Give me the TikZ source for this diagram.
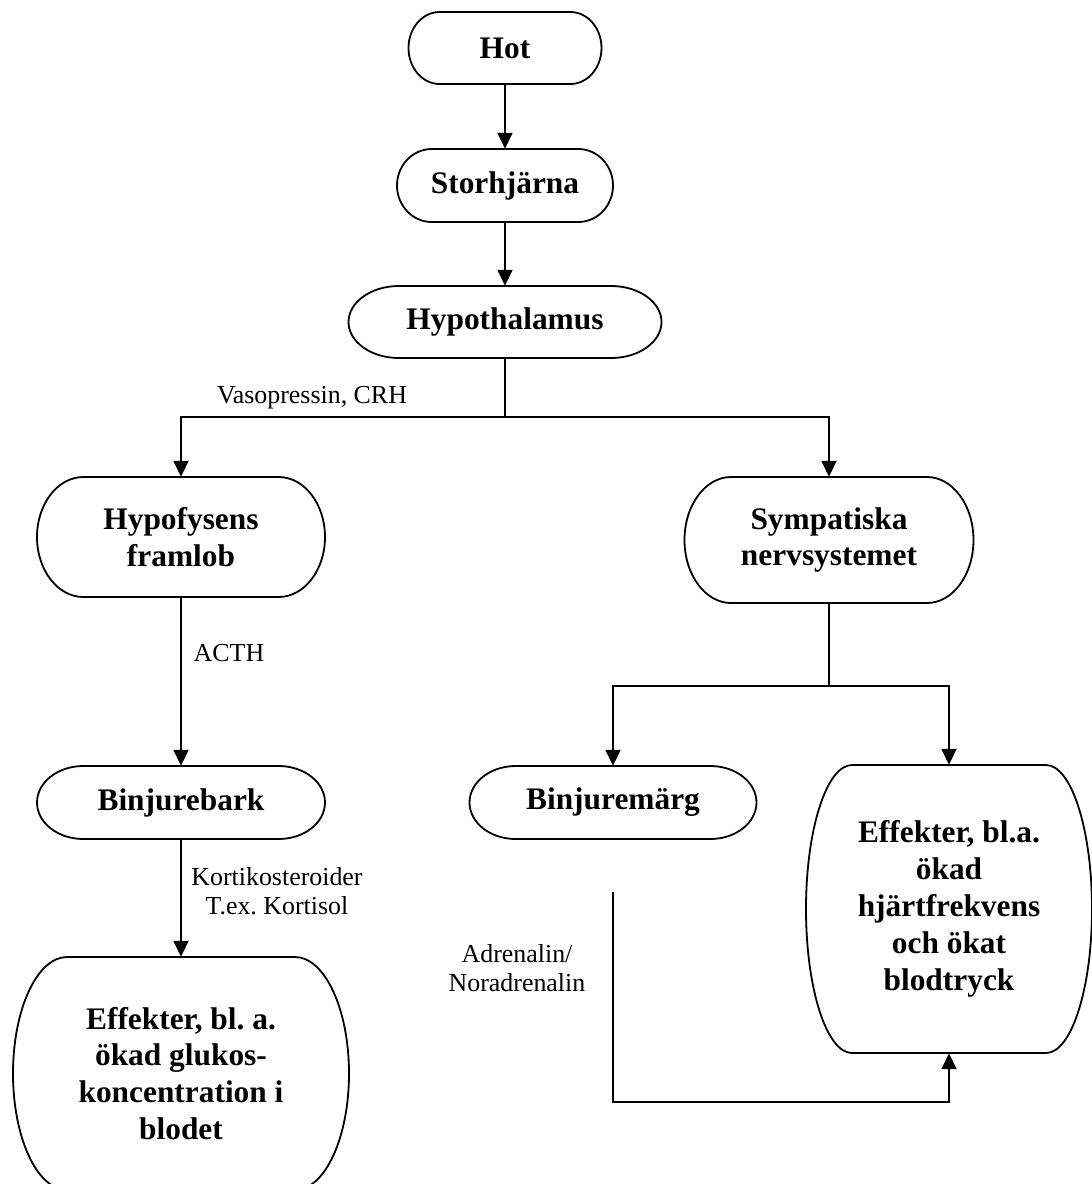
\documentclass[tikz,border=0pt]{standalone}
\usepackage{fontspec}
\setmainfont{Liberation Serif}
\frenchspacing
\usetikzlibrary{arrows.meta,calc}
\tikzset{
  boxline/.style={line width=1.8bp, black},
  conn/.style={line width=1.8bp, black},
  arr/.style={conn, -{Triangle[length=16bp,width=15bp]}},
  boxtext/.style={rectangle, inner sep=0pt, align=center, font=\bfseries\fontsize{31.5}{37}\selectfont},
  lbl/.style={inner sep=0pt, align=center, font=\fontsize{26}{29}\selectfont},
}
\newcommand{\tbox}[6]{%
  \node[boxtext, minimum width=#4bp, minimum height=#5bp] (#1) at (#2,#3) {#6};
  \draw[boxline] ({#2-#4/2+0.161*#4},{#3-#5/2}) -- ({#2+#4/2-0.161*#4},{#3-#5/2})
    arc[start angle=-90, end angle=90, x radius={0.161*#4}, y radius={#5/2}]
    -- ({#2-#4/2+0.161*#4},{#3+#5/2})
    arc[start angle=90, end angle=270, x radius={0.161*#4}, y radius={#5/2}] -- cycle;
}
\begin{document}
\begin{tikzpicture}[x=1bp, y=-1bp]
\useasboundingbox (0,0) rectangle (1092,1184);
\clip (0,0) rectangle (1092,1184);
\fill[white] (0,0) rectangle (1092,1184);

\tbox{hot}{505}{48}{193}{72}{Hot}
\tbox{stor}{505}{185.5}{216}{73}{Storhjärna}
\tbox{hyp}{505}{322}{313}{72}{Hypothalamus}
\tbox{hypo}{181}{537}{288}{120}{Hypofysens\\framlob}
\tbox{symp}{829}{540}{289}{126}{Sympatiska\\nervsystemet}
\tbox{bark}{181}{802.5}{288}{73}{Binjurebark}
\tbox{marg}{613}{802.5}{287}{73}{Binjuremärg}
\tbox{effR}{949}{909}{286}{288}{Effekter, bl.a.\\ökad\\hjärtfrekvens\\och ökat\\blodtryck}
\tbox{effL}{181}{1073.5}{336}{233}{Effekter, bl. a.\\ökad glukos-\\koncentration i\\blodet}

\node[lbl] (vaso) at (312,398) {Vasopressin, CRH};
\node[lbl] (acth) at (229,653) {ACTH};
\node[lbl] (kort) at (277,891.5) {Kortikosteroider\\T.ex. Kortisol};
\node[lbl] (adr) at (517,968) {Adrenalin/\\Noradrenalin};

\draw[arr] (hot.south) -- (stor.north);
\draw[arr] (stor.south) -- (hyp.north);
\coordinate (split1) at (hyp.south |- 0,417);
\draw[conn] (hyp.south) -- (split1);
\draw[arr] (split1) -| (hypo.north);
\draw[arr] (split1) -| (symp.north);
\draw[arr] (hypo.south) -- (bark.north);
\draw[arr] (bark.south) -- (effL.north);
\coordinate (split2) at (symp.south |- 0,686);
\draw[conn] (symp.south) -- (split2);
\draw[arr] (split2) -| (marg.north);
\draw[arr] (split2) -| (effR.north);
\coordinate (adrstart) at (marg.south |- 0,892);
\coordinate (adrbend) at (marg.south |- 0,1102);
\draw[arr] (adrstart) -- (adrbend) -| (effR.south);
\end{tikzpicture}
\end{document}
